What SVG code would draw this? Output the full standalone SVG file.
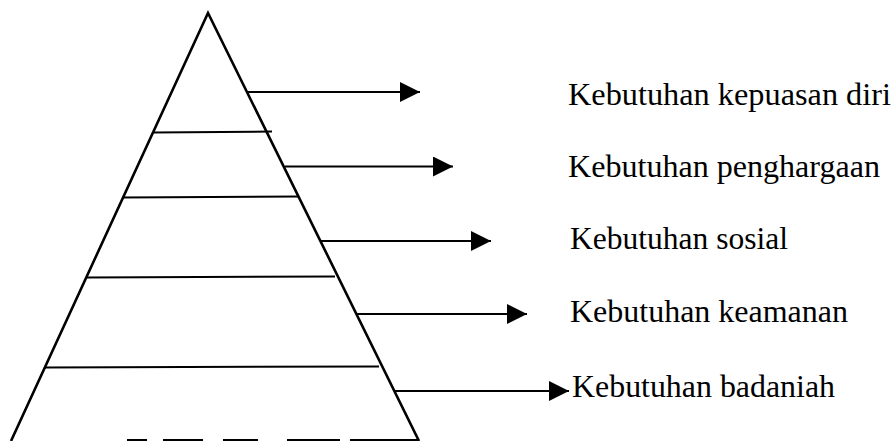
<svg xmlns="http://www.w3.org/2000/svg" width="893" height="441" viewBox="0 0 893 441">
  <style>
    .edge { fill: none; stroke: #000; stroke-width: 2.6; stroke-linejoin: miter; }
    .tier { stroke: #000; stroke-width: 2; }
    .link { stroke: #000; stroke-width: 2; fill: none; }
    .label { font-family: "Liberation Serif", "Times New Roman", serif; font-size: 31px; fill: #000; }
  </style>
  <defs>
    <marker id="head" markerUnits="userSpaceOnUse" markerWidth="21" markerHeight="21" refX="20" refY="10" orient="auto">
      <path d="M0,0 L20,10 L0,20 Z" fill="#000"/>
    </marker>
  </defs>

  <rect width="893" height="441" fill="#fff"/>

  <!-- pyramid outline and tier dividers -->
  <g id="pyramid">
    <polyline class="edge" points="11,441 208,13 419,441"/>
    <g id="base-edge">
      <line class="tier" x1="127" y1="440" x2="147" y2="440"/>
      <line class="tier" x1="163" y1="440" x2="203" y2="440"/>
      <line class="tier" x1="223" y1="440" x2="258" y2="440"/>
      <line class="tier" x1="287" y1="440" x2="340" y2="440"/>
      <line class="tier" x1="350" y1="440" x2="418" y2="440"/>
    </g>
    <line class="tier" x1="153" y1="132.5" x2="272" y2="131.5"/>
    <line class="tier" x1="122" y1="197.5" x2="299" y2="196.5"/>
    <line class="tier" x1="87" y1="277.5" x2="335" y2="276.5"/>
    <line class="tier" x1="45" y1="367.5" x2="379" y2="366.5"/>
  </g>

  <!-- arrows from each tier to its label -->
  <g id="connectors">
    <line class="link" x1="248" y1="92" x2="420" y2="92" marker-end="url(#head)"/>
    <line class="link" x1="285" y1="166.5" x2="453" y2="166.5" marker-end="url(#head)"/>
    <line class="link" x1="321" y1="241" x2="491" y2="241" marker-end="url(#head)"/>
    <line class="link" x1="357" y1="314" x2="527" y2="314" marker-end="url(#head)"/>
    <line class="link" x1="395" y1="391" x2="569" y2="391" marker-end="url(#head)"/>
  </g>

  <g id="label-kepuasan-diri">
    <text class="label" x="568" y="105" textLength="323" lengthAdjust="spacingAndGlyphs">Kebutuhan kepuasan diri</text>
  </g>
  <g id="label-penghargaan">
    <text class="label" x="568" y="177" textLength="312" lengthAdjust="spacingAndGlyphs">Kebutuhan penghargaan</text>
  </g>
  <g id="label-sosial">
    <text class="label" x="570" y="249" textLength="218" lengthAdjust="spacingAndGlyphs">Kebutuhan sosial</text>
  </g>
  <g id="label-keamanan">
    <text class="label" x="570" y="322" textLength="278" lengthAdjust="spacingAndGlyphs">Kebutuhan keamanan</text>
  </g>
  <g id="label-badaniah">
    <text class="label" x="572" y="397" textLength="263" lengthAdjust="spacingAndGlyphs">Kebutuhan badaniah</text>
  </g>
</svg>
